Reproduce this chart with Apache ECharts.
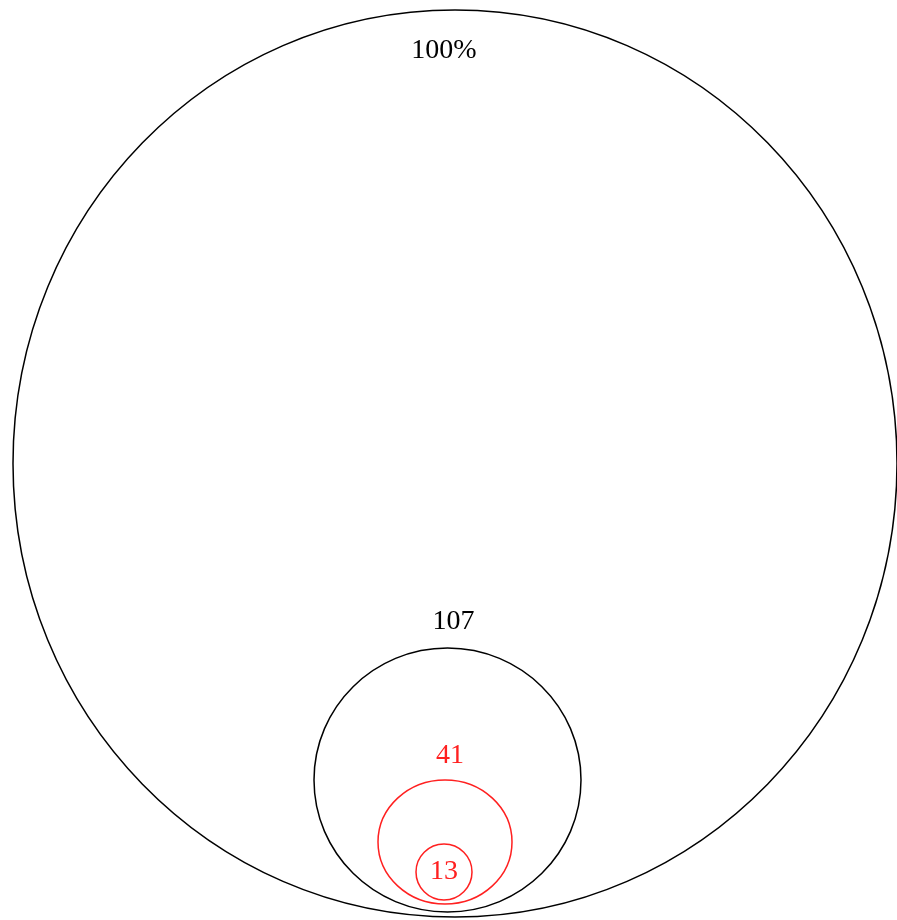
<!DOCTYPE html>
<html>
<head>
<meta charset="utf-8">
<script src="https://cdn.jsdelivr.net/npm/echarts@6/dist/echarts.min.js"></script>
<style>html,body{margin:0;padding:0;background:#fff}#c{width:897px;height:920px}</style>
</head>
<body>
<div id="c"></div>
<script>
// Data (in chart units: one unit = one pixel of the 897x920 canvas)
var labels = ['100%', '107', '41', '13'];
var centerX = [455, 447.5, 445, 444];
var centerY = [463.5, 780, 842, 872];
var radiusX = [442, 133.5, 67, 28];
var radiusY = [453.5, 132, 62, 28];

// Styles
var colors = ['#000000', '#000000', '#ff2020', '#ff2020'];
var labelDx = [-11, 6, 5, 0];
var labelDy = [41, -26.5, -24, null]; // null = centred

var data = labels.map(function (l, i) {
  return [centerX[i], centerY[i], radiusX[i], radiusY[i], i];
});

var chart = echarts.init(document.getElementById('c'), null, {renderer: 'canvas'});
chart.setOption({
  animation: false,
  backgroundColor: '#ffffff',
  grid: {left: 0, right: 0, top: 0, bottom: 0},
  xAxis: {type: 'value', min: 0, max: 897, show: false},
  yAxis: {type: 'value', min: 0, max: 920, inverse: true, show: false},
  series: [{
    type: 'custom',
    coordinateSystem: 'cartesian2d',
    data: data,
    renderItem: function (params, api) {
      var i = api.value(4);
      var c = api.coord([api.value(0), api.value(1)]);
      var s = api.size([api.value(2), api.value(3)]);
      var rx = s[0], ry = s[1];
      var ty = labelDy[i] === null ? c[1] : (c[1] - ry + labelDy[i]);
      return {
        type: 'group',
        children: [{
          type: 'ellipse',
          shape: {cx: c[0], cy: c[1], rx: rx, ry: ry},
          style: {fill: null, stroke: colors[i], lineWidth: 1.5}
        }, {
          type: 'text',
          x: c[0] + labelDx[i],
          y: ty,
          style: {
            text: labels[i],
            fill: colors[i],
            font: '28px "Liberation Serif"',
            align: 'center',
            verticalAlign: 'middle'
          }
        }]
      };
    }
  }]
});
</script>
</body>
</html>
